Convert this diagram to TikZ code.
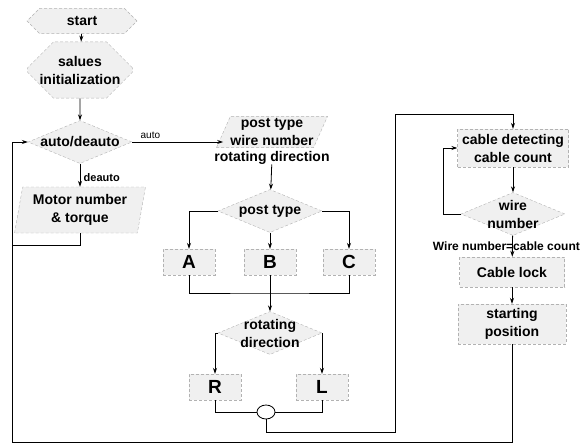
\documentclass[tikz,border=0pt]{standalone}
\usepackage{fontspec}
\setmainfont{Liberation Sans}
\usetikzlibrary{arrows.meta,shapes.geometric,shapes.misc}

\begin{document}
\begin{tikzpicture}[
    x=1pt, y=-1pt,
    every node/.style={font=\bfseries\fontsize{14}{18}\selectfont, align=center},
    term/.style={chamfered rectangle, draw=gray!60, densely dashed, fill=gray!12, inner sep=0pt},
    proc/.style={rectangle, draw=gray!60, densely dashed, fill=gray!12, inner sep=0pt},
    io/.style={trapezium, draw=gray!60, densely dashed, fill=gray!12, inner xsep=0pt},
    decision/.style={diamond, draw=gray!60, densely dashed, fill=gray!12, minimum width=104, minimum height=43, inner sep=0pt},
    letter/.style={font=\bfseries\fontsize{19}{19}\selectfont, minimum width=52, minimum height=26},
    edge/.style={-{Stealth[length=6pt,width=4pt]}, line width=0.8pt},
    line/.style={line width=0.8pt}
]
    \useasboundingbox (0,0) rectangle (584,444);

    % Start
    \node[term, chamfered rectangle xsep=9pt, chamfered rectangle ysep=8pt, minimum width=110, minimum height=22] (start) at (82,21) {start};
    \node[term, chamfered rectangle xsep=12pt, chamfered rectangle ysep=14pt, minimum width=96, minimum height=42] (init) at (80,70) {salues\\initialization};
    \node[decision, label={[name=adl]center:auto/deauto}] (ad) at (80,142) {};
    \node[io, trapezium left angle=80, trapezium right angle=100, minimum height=46] (mt) at (80,210) {Motor number\\\& torque};

    % Post type
    \node[io, trapezium left angle=66, trapezium right angle=114, inner ysep=2pt,
          label={[name=ptl, inner sep=0pt, label distance=3pt]below:rotating direction}] (pt) at (272,132) {post type\\wire number};
    \node[decision, label={[name=ptdl]center:post type}] (ptd) at (270,211) {};
    \node[proc, letter] (a) at (189,262) {A};
    \node[proc, letter] (b) at (270,262) {B};
    \node[proc, letter] (c) at (349,262) {C};

    % Rotating direction
    \node[decision, label={[name=rdl]center:rotating\\direction}] (rd) at (270,333) {};
    \node[proc, letter] (r) at (215,387) {R};
    \node[proc, letter] (l) at (322,387) {L};
    \node[ellipse, draw, line width=0.8pt, fill=white, minimum width=18, minimum height=14, inner sep=0pt] (el) at (266,412) {};

    % Cable
    \node[proc, minimum width=111, minimum height=38] (cd) at (513,148) {cable detecting\\cable count};
    \node[decision, label={[name=wnl]center:wire\\number}] (wn) at (513,214) {};
    \node[proc, minimum width=105, minimum height=30] (cl) at (512,272) {Cable lock};
    \node[proc, minimum width=108, minimum height=40] (sp) at (512,324) {starting\\position};

    % Knicks
    \coordinate (bl) at (12,442);
    \coordinate (mj) at (12,245);
    \coordinate (abc) at (270,293);
    \coordinate (ej) at (395,432);
    \coordinate (cj) at (395,114);
    \coordinate (lp) at (443,148);

    % Left column
    \draw[edge] (start) -- (init);
    \draw[edge] (init) -- (ad);
    \draw[edge] (ad) -- node[right, pos=0.6, font=\bfseries\fontsize{11}{11}\selectfont] {deauto} (mt);
    \draw[edge] (ad.east) -- node[above, pos=0.2, font=\fontsize{10}{10}\selectfont] {auto} (ad.east -| pt.left side);
    \draw[line] (mt) |- (mj);

    % Middle column
    \draw[edge] (ptl) -- (ptd);
    \draw[edge] (ptd.west) -| (a);
    \draw[edge] (ptd) -- (b);
    \draw[edge] (ptd.east) -| (c);
    \draw[line] (a) |- (abc) -| (c);
    \draw[edge] (b) -- (rd);
    \draw[edge] (rd.west) -| (r);
    \draw[edge] (rd.east) -| (l);
    \draw[line] (r) |- (el);
    \draw[line] (l) |- (el);
    \draw[edge] (el) |- (ej) -- (cj) -| (cd);

    % Right column
    \draw[edge] (cd) -- (wn);
    \draw[edge] (wn.west) -| (lp) -- (cd.west);
    \draw[edge] (wn) -- node[xshift=-6, inner sep=0pt, font=\bfseries\fontsize{12}{12}\selectfont] {Wire number=cable count} (cl);
    \draw[edge] (cl) -- (sp);
    \draw[edge] (sp) |- (bl) |- (ad.west);

\end{tikzpicture}
\end{document}
